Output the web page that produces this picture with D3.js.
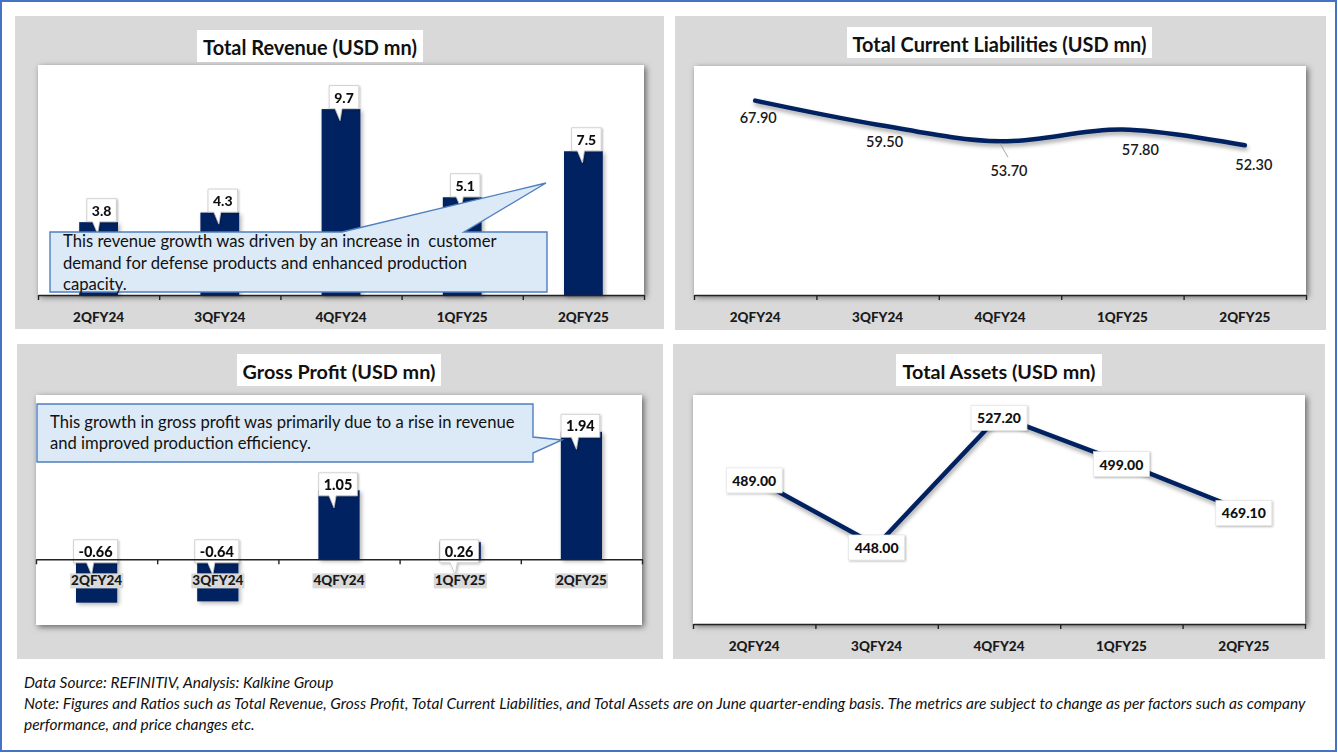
<!DOCTYPE html>
<html><head><meta charset="utf-8">
<script src="https://cdn.jsdelivr.net/npm/d3@7"></script>
<style>body{margin:0;background:#fff}svg{display:block}</style>
</head><body>
<svg id="c" width="1338" height="753"></svg>
<script>
// ---------- DATA ----------
const categories = ["2QFY24", "3QFY24", "4QFY24", "1QFY25", "2QFY25"];
const revenue = [3.8, 4.3, 9.7, 5.1, 7.5];
const liabilities = [67.90, 59.50, 53.70, 57.80, 52.30];
const grossProfit = [-0.66, -0.64, 1.05, 0.26, 1.94];
const assets = [489.00, 448.00, 527.20, 499.00, 469.10];
const revenueDomain = [0, 12];
const liabilitiesDomain = [0, 80];
const grossProfitDomain = [-1, 2.5];
const assetsDomain = [400, 540];
const titles = ["Total Revenue (USD mn)", "Total Current Liabilities (USD mn)", "Gross Profit (USD mn)", "Total Assets (USD mn)"];
const revenueNote = ["This revenue growth was driven by an increase in  customer", "demand for defense products and enhanced production", "capacity."];
const profitNote = ["This growth in gross profit was primarily due to a rise in revenue", "and improved production efficiency."];
const footer = ["Data Source: REFINITIV, Analysis: Kalkine Group",
  "Note: Figures and Ratios such as Total Revenue, Gross Profit, Total Current Liabilities, and Total Assets are on June quarter-ending basis. The metrics are subject to change as per factors such as company",
  "performance, and price changes etc."];

// ---------- STYLE / LAYOUT ----------
const FONT = "Lato, 'Open Sans', sans-serif";
const NAVY = "#002060";
const GRAY = "#d9d9d9";
const svg = d3.select("#c");
const defs = svg.append("defs");
function shadow(id, dx, dy, sd, op) {
  const f = defs.append("filter").attr("id", id).attr("x", "-20%").attr("y", "-20%").attr("width", "140%").attr("height", "140%");
  f.append("feDropShadow").attr("dx", dx).attr("dy", dy).attr("stdDeviation", sd).attr("flood-color", "#000").attr("flood-opacity", op);
}
shadow("plotSh", 2, 2, 3, 0.55);
shadow("barSh", 2, 2, 2, 0.3);
shadow("lblSh", 1, 1, 1.2, 0.3);
shadow("lineSh", 1, 3, 2, 0.35);

function fit(sel, target) {
  const w = sel.node().getComputedTextLength();
  const fs = parseFloat(sel.attr("font-size"));
  const nfs = fs * target / w;
  sel.attr("font-size", nfs);
  return nfs;
}

// outer frame
svg.append("rect").attr("x", 1).attr("y", 1).attr("width", 1335).attr("height", 750)
  .attr("fill", "#fff").attr("stroke", "#4472c4").attr("stroke-width", 2);

const P = [
  { g: [15, 16, 649, 313], t: [197, 30, 226, 32], tw: 214, p: [38, 65, 606, 230] },
  { g: [675, 16, 651, 314], t: [847, 27, 305, 31], tw: 294, p: [694, 66, 612, 229] },
  { g: [17, 344, 646, 315], t: [237, 354, 204, 32], tw: 193, p: [36, 395, 606, 230] },
  { g: [673, 344, 652, 315], t: [896, 354, 206, 32], tw: 193, p: [693, 395, 612, 229] }
];

function drawPanel(i) {
  const L = P[i];
  svg.append("rect").attr("x", L.g[0]).attr("y", L.g[1]).attr("width", L.g[2]).attr("height", L.g[3]).attr("fill", GRAY);
  svg.append("rect").attr("x", L.p[0]).attr("y", L.p[1]).attr("width", L.p[2]).attr("height", L.p[3])
    .attr("fill", "#fff").attr("filter", "url(#plotSh)");
  svg.append("rect").attr("x", L.t[0]).attr("y", L.t[1]).attr("width", L.t[2]).attr("height", L.t[3]).attr("fill", "#fff");
  const t = svg.append("text").attr("x", L.t[0] + L.t[2] / 2).attr("y", L.t[1] + L.t[3] / 2 + 1)
    .attr("text-anchor", "middle").attr("dominant-baseline", "central")
    .attr("font-family", FONT).attr("font-weight", "bold").attr("font-size", 18).attr("fill", "#111").text(titles[i]);
  fit(t, L.tw);
}

function xBand(L, pad) {
  return d3.scaleBand().domain(categories).range([L.p[0], L.p[0] + L.p[2]]).paddingInner(pad).paddingOuter(pad / 2);
}

function drawAxis(L, y0, labelPad, labelBg) {
  const idx = d3.scaleLinear().domain([0, categories.length]).range([L.p[0], L.p[0] + L.p[2]]);
  const ax = svg.append("g").attr("transform", `translate(0,${y0})`)
    .call(d3.axisBottom(idx).tickValues(d3.range(categories.length + 1)).tickFormat("").tickSize(5).tickSizeOuter(0));
  ax.selectAll("path,line").attr("stroke", "#222").attr("stroke-width", 1.4);
  const band = xBand(L, 0);
  const lg = svg.append("g").attr("transform", `translate(0,${y0})`)
    .call(d3.axisBottom(band).tickSize(0).tickPadding(labelPad));
  lg.select(".domain").remove();
  lg.selectAll("text").attr("font-family", FONT).attr("font-weight", 900).attr("font-size", 13.5).attr("fill", "#1a1a1a");
  if (labelBg) {
    lg.selectAll(".tick").each(function () {
      const tx = d3.select(this).select("text");
      const b = tx.node().getBBox();
      d3.select(this).insert("rect", "text").attr("x", b.x - 1).attr("y", b.y + 1).attr("width", b.width + 2).attr("height", b.height - 1).attr("fill", GRAY);
    });
  }
}

function calloutLabel(g, cx, cy, txt, fs) {
  const grp = g.append("g").attr("filter", "url(#lblSh)");
  const t = grp.append("text").attr("x", cx).attr("y", cy).attr("text-anchor", "middle").attr("dominant-baseline", "central")
    .attr("font-family", FONT).attr("font-weight", 900).attr("font-size", fs).attr("fill", "#111").text(txt);
  const w = t.node().getComputedTextLength() + 10, h = 23;
  const x0 = cx - w / 2, y0 = cy - h / 2, yb = cy + h / 2;
  grp.insert("path", "text").attr("d",
    `M${x0},${y0}H${x0 + w}V${yb}H${cx - 2}L${cx - 4},${yb + 12}L${cx - 9},${yb}H${x0}Z`)
    .attr("fill", "#fff").attr("stroke", "#c8c8c8").attr("stroke-width", 0.8);
}

function boxLabel(g, cx, cy, txt) {
  const grp = g.append("g");
  const t = grp.append("text").attr("x", cx).attr("y", cy).attr("text-anchor", "middle").attr("dominant-baseline", "central")
    .attr("font-family", FONT).attr("font-weight", 900).attr("font-size", 14).attr("fill", "#111").text(txt);
  const w = t.node().getComputedTextLength() + 12, h = 25;
  grp.insert("rect", "text").attr("x", cx - w / 2).attr("y", cy - h / 2).attr("width", w).attr("height", h)
    .attr("fill", "#fff").attr("stroke", "#e0e0e0").attr("stroke-width", 0.6).attr("filter", "url(#lblSh)");
}

function noteBox(pathD, lines, x, y0, lh, target) {
  svg.append("path").attr("d", pathD).attr("fill", "#dce9f6").attr("stroke", "#4f7fbf").attr("stroke-width", 1.4);
  const ts = lines.map((ln, k) => svg.append("text").attr("x", x).attr("y", y0 + k * lh).attr("dominant-baseline", "central")
    .attr("font-family", FONT).attr("font-size", 16).attr("fill", "#111").attr("xml:space", "preserve").style("white-space", "pre").text(ln));
  const fs = fit(ts[0], target);
  ts.forEach(t => t.attr("font-size", fs));
}

// ---------- PANEL 1: Total Revenue ----------
(function () {
  const L = P[0];
  drawPanel(0);
  const x = xBand(L, 0.68);
  const y = d3.scaleLinear().domain(revenueDomain).range([L.p[1] + L.p[3], L.p[1]]);
  const g = svg.append("g");
  g.selectAll("rect.bar").data(revenue).join("rect").attr("class", "bar")
    .attr("x", (d, i) => x(categories[i])).attr("width", x.bandwidth())
    .attr("y", d => y(d)).attr("height", d => y(0) - y(d)).attr("fill", NAVY).attr("filter", "url(#barSh)");
  drawAxis(L, y(0), 17.5, false);
  revenue.forEach((d, i) => calloutLabel(g, x(categories[i]) + x.bandwidth() / 2 + 3, y(d) - 12, d.toFixed(1), 14));
  noteBox("M50,232H342L546,183L464,232H547V292H50Z", revenueNote, 63, 241, 21.5, 434);
})();

// ---------- PANEL 2: Total Current Liabilities ----------
(function () {
  const L = P[1];
  drawPanel(1);
  const x = xBand(L, 0);
  const cx = c => x(c) + x.bandwidth() / 2;
  const y = d3.scaleLinear().domain(liabilitiesDomain).range([L.p[1] + L.p[3], L.p[1]]);
  drawAxis(L, y(0), 17.5, false);
  const line = d3.line().x((d, i) => cx(categories[i])).y(d => y(d)).curve(d3.curveCardinal.tension(0));
  svg.append("path").datum(liabilities).attr("d", line).attr("fill", "none").attr("stroke", NAVY)
    .attr("stroke-width", 4.5).attr("stroke-linecap", "round").attr("filter", "url(#lineSh)");
  const offs = [[3, 17], [7, 17], [9, 29], [18, 20], [9, 19]];
  liabilities.forEach((d, i) => {
    const px = cx(categories[i]), py = y(d);
    if (offs[i][1] > 25) {
      svg.append("line").attr("x1", px).attr("y1", py + 2).attr("x2", px + offs[i][0] - 1).attr("y2", py + offs[i][1] - 13)
        .attr("stroke", "#a6a6a6").attr("stroke-width", 1);
    }
    svg.append("text").attr("x", px + offs[i][0]).attr("y", py + offs[i][1]).attr("text-anchor", "middle").attr("dominant-baseline", "central")
      .attr("font-family", FONT).attr("font-size", 14.5).attr("font-weight", 600).attr("fill", "#1a1a1a").text(d.toFixed(2));
  });
})();

// ---------- PANEL 3: Gross Profit ----------
(function () {
  const L = P[2];
  drawPanel(2);
  const x = xBand(L, 0.66);
  const y = d3.scaleLinear().domain(grossProfitDomain).range([L.p[1] + L.p[3], L.p[1]]);
  const g = svg.append("g");
  g.selectAll("rect.bar").data(grossProfit).join("rect").attr("class", "bar")
    .attr("x", (d, i) => x(categories[i])).attr("width", x.bandwidth())
    .attr("y", d => Math.min(y(d), y(0))).attr("height", d => Math.abs(y(0) - y(d))).attr("fill", NAVY).attr("filter", "url(#barSh)");
  drawAxis(L, y(0), 16.5, true);
  grossProfit.forEach((d, i) => {
    const top = Math.min(y(d), y(0));
    const cy = (y(0) - top > 25) ? top - 6 : y(0) - 8;
    calloutLabel(g, x(categories[i]) + x.bandwidth() / 2 - 1, cy, d.toFixed(2), 14.5);
  });
  noteBox("M37,404H533V437L562,440L533,453V462H37Z", profitNote, 50, 422, 21, 465);
})();

// ---------- PANEL 4: Total Assets ----------
(function () {
  const L = P[3];
  drawPanel(3);
  const x = xBand(L, 0);
  const cx = c => x(c) + x.bandwidth() / 2;
  const y = d3.scaleLinear().domain(assetsDomain).range([L.p[1] + L.p[3], L.p[1]]);
  drawAxis(L, L.p[1] + L.p[3], 17.5, false);
  const line = d3.line().x((d, i) => cx(categories[i])).y(d => y(d));
  svg.append("path").datum(assets).attr("d", line).attr("fill", "none").attr("stroke", NAVY)
    .attr("stroke-width", 4.5).attr("filter", "url(#lineSh)");
  const g = svg.append("g");
  assets.forEach((d, i) => boxLabel(g, cx(categories[i]), y(d) + 2, d.toFixed(2)));
})();

// ---------- FOOTER ----------
const ft = footer.map((s, k) => svg.append("text").attr("x", 24).attr("y", 682 + k * 21).attr("dominant-baseline", "central")
  .attr("font-family", FONT).attr("font-style", "italic").attr("font-size", 13).attr("fill", "#111").text(s));
const ffs = fit(ft[1], 1283);
ft.forEach(t => t.attr("font-size", ffs));
</script>
</body></html>
